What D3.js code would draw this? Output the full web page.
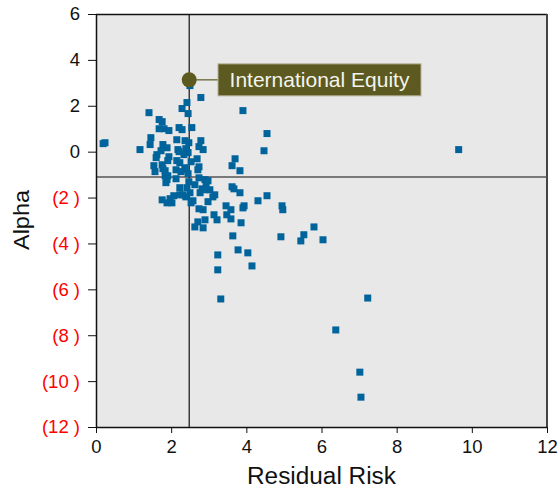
<!DOCTYPE html>
<html>
<head>
<meta charset="utf-8">
<script src="https://cdn.jsdelivr.net/npm/d3@7"></script>
<style>
  body { margin: 0; background: #fff; }
  text { font-family: "Liberation Sans", Arial, sans-serif; }
</style>
</head>
<body>
<div id="chart"></div>
<script>
// residual risk (x) and alpha (y) for each fund
const riskValues = [
  2.50, 2.79, 2.42, 3.91, 2.29, 2.45, 1.41, 1.68, 1.76, 1.68,
  1.81, 1.94, 2.21, 2.29, 2.55, 4.55, 0.19, 0.24, 1.17, 1.46,
  1.44, 2.15, 2.37, 2.47, 2.79, 1.78, 1.89, 2.18, 2.39, 2.45,
  2.74, 2.85, 4.47, 1.73, 1.62, 1.60, 1.94, 2.21, 2.34, 2.23,
  2.15, 1.91, 2.69, 2.53, 2.74, 1.54, 1.76, 1.84, 2.37, 3.70,
  3.62, 3.83, 1.57, 1.78, 1.84, 1.89, 1.86, 2.13, 2.26, 2.37,
  2.71, 2.74, 2.47, 2.63, 2.90, 2.93, 2.98, 2.23, 2.42, 2.50,
  2.82, 2.90, 2.31, 2.39, 2.07, 1.97, 1.76, 1.89, 2.02, 2.58,
  2.53, 2.74, 2.85, 2.98, 2.71, 2.90, 2.63, 2.85, 3.16, 3.11,
  3.62, 3.67, 3.83, 4.55, 4.31, 3.46, 3.59, 3.91, 3.94, 4.95,
  4.97, 3.14, 3.22, 3.48, 3.59, 3.86, 3.64, 4.92, 5.53, 5.45,
  5.80, 6.04, 3.78, 4.04, 4.15, 3.24, 3.24, 3.32, 7.23, 6.38,
  7.02, 7.05, 9.65, 2.77, 3.03, 2.23, 2.13, 2.45, 1.91
];
const alphaValues = [
  2.88, 2.36, 2.14, 1.79, 1.88, 1.66, 1.70, 1.40, 1.31, 1.00,
  1.00, 0.92, 1.05, 0.96, 1.05, 0.79, 0.35, 0.39, 0.09, 0.61,
  0.31, 0.52, 0.48, 0.39, 0.48, 0.31, 0.17, 0.09, 0.13, -0.04,
  0.22, 0.09, 0.04, 0.04, -0.13, -0.26, -0.22, 0.00, -0.13, -0.48,
  -0.39, -0.39, -0.31, -0.44, -0.66, -0.61, -0.57, -0.83, -0.70, -0.31,
  -0.61, -0.83, -0.87, -0.74, -1.05, -1.22, -1.35, -1.18, -0.87, -0.79,
  -0.79, -1.14, -1.31, -1.44, -1.22, -1.40, -1.27, -1.57, -1.57, -1.79,
  -1.62, -1.66, -1.88, -1.97, -1.92, -2.05, -2.10, -2.23, -2.23, -2.14,
  -2.23, -2.49, -2.53, -2.18, -3.06, -2.97, -3.28, -3.32, -1.88, -1.97,
  -1.53, -1.62, -1.79, -1.92, -2.14, -2.36, -2.53, -2.45, -2.36, -2.36,
  -2.53, -2.75, -2.97, -2.75, -2.93, -3.10, -3.67, -3.71, -3.62, -3.89,
  -3.28, -3.84, -4.28, -4.41, -4.98, -4.50, -5.15, -6.42, -6.38, -7.77,
  -9.61, -10.7, 0.09, -1.79, -1.66, -1.88, -0.79, -0.96, -1.05
];

// highlighted fund and the reference cross-hair
const highlightName = "International Equity";
const highlightRisk = 2.48;
const highlightAlpha = 3.13;
const crossRisk = 2.48;
const crossAlpha = -1.1;

const xTicks = [0, 2, 4, 6, 8, 10, 12];
const yTicks = [6, 4, 2, 0, -2, -4, -6, -8, -10, -12];

const W = 558, H = 491;
const margin = {top: 14, right: 11, bottom: 64, left: 96};
const width = W - margin.left - margin.right,
      height = H - margin.top - margin.bottom;

const svg = d3.select("#chart").append("svg")
    .attr("width", W)
    .attr("height", H);

const g = svg.append("g")
    .attr("transform", `translate(${margin.left},${margin.top})`);

const x = d3.scaleLinear().domain([0, 12]).range([0, width]);
const y = d3.scaleLinear().domain([-12, 6]).range([height, 0]);

g.append("rect")
    .attr("width", width)
    .attr("height", height)
    .attr("fill", "#e8e8e8");

// frame top / right
g.append("line").attr("x1", 0).attr("x2", width).attr("y1", 0.5).attr("y2", 0.5)
    .attr("stroke", "#111").attr("stroke-width", 1.5);
g.append("line").attr("x1", width).attr("x2", width).attr("y1", 0).attr("y2", height)
    .attr("stroke", "#444").attr("stroke-width", 2);

// cross-hair
g.append("line")
    .attr("x1", 0).attr("x2", width)
    .attr("y1", y(crossAlpha)).attr("y2", y(crossAlpha))
    .attr("stroke", "#555").attr("stroke-width", 1.5);
g.append("line")
    .attr("x1", x(crossRisk)).attr("x2", x(crossRisk))
    .attr("y1", 0).attr("y2", height)
    .attr("stroke", "#111").attr("stroke-width", 1.2);

const data = riskValues.map((r, i) => ({risk: r, alpha: alphaValues[i]}));
const s = 7;
g.selectAll("rect.pt")
    .data(data)
    .join("rect")
    .attr("class", "pt")
    .attr("x", d => x(d.risk) - s / 2)
    .attr("y", d => y(d.alpha) - s / 2)
    .attr("width", s)
    .attr("height", s)
    .attr("fill", "#00649c");

// axes
const xAxis = g.append("g")
    .attr("transform", `translate(0,${height})`)
    .call(d3.axisBottom(x).tickValues(xTicks).tickSize(6).tickSizeOuter(0).tickPadding(7));
xAxis.selectAll("text").attr("font-size", 18.5).attr("fill", "#111")
    .attr("font-family", "Liberation Sans, Arial, sans-serif");

const fmtY = v => v < 0 ? `(${-v} )` : `${v}`;
const yAxis = g.append("g")
    .call(d3.axisLeft(y).tickValues(yTicks).tickFormat(fmtY).tickSize(8).tickSizeOuter(0).tickPadding(8));
yAxis.selectAll("text").attr("font-size", 18.5)
    .attr("font-family", "Liberation Sans, Arial, sans-serif")
    .attr("fill", d => d < 0 ? "#ff0000" : "#111");
g.selectAll(".domain").attr("stroke", "#111").attr("stroke-width", 1.5);
g.selectAll(".tick line").attr("stroke", "#111");

// highlighted fund with callout
const hx = x(highlightRisk), hy = y(highlightAlpha);
const boxX = 122, boxW = 203, boxH = 32;
g.append("line")
    .attr("x1", hx).attr("x2", boxX)
    .attr("y1", hy).attr("y2", hy)
    .attr("stroke", "#5c5a20").attr("stroke-width", 1.2);
g.append("circle")
    .attr("cx", hx).attr("cy", hy).attr("r", 7.5)
    .attr("fill", "#5c5a1f");
g.append("rect")
    .attr("x", boxX).attr("y", hy - boxH / 2)
    .attr("width", boxW).attr("height", boxH)
    .attr("fill", "#5c5a20")
    .attr("stroke", "#b4b29a").attr("stroke-width", 1);
g.append("text")
    .attr("x", boxX + boxW / 2).attr("y", hy + 7.5)
    .attr("text-anchor", "middle")
    .attr("font-size", 21)
    .attr("fill", "#f4f4ee")
    .text(highlightName);

// axis titles
svg.append("text")
    .attr("x", margin.left + width / 2).attr("y", 484)
    .attr("text-anchor", "middle")
    .attr("font-size", 23)
    .attr("textLength", 149).attr("lengthAdjust", "spacingAndGlyphs")
    .attr("fill", "#111")
    .text("Residual Risk");
svg.append("text")
    .attr("transform", `translate(29,220) rotate(-90)`)
    .attr("text-anchor", "middle")
    .attr("font-size", 22)
    .attr("textLength", 60).attr("lengthAdjust", "spacingAndGlyphs")
    .attr("fill", "#111")
    .text("Alpha");
</script>
</body>
</html>
